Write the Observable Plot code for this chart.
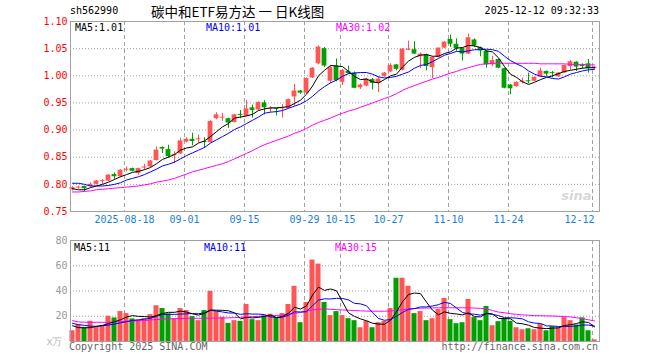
<!DOCTYPE html>
<html><head><meta charset="utf-8">
<script src="https://cdn.jsdelivr.net/npm/d3@7"></script>
<script src="https://cdn.jsdelivr.net/npm/@observablehq/plot@0.6"></script>
<style>
body{margin:0;background:#fff;}
#wrap{position:relative;width:660px;height:360px;background:#fff;overflow:hidden;}
.t{position:absolute;white-space:pre;line-height:10px;font-family:"DejaVu Sans Mono",monospace;font-size:10px;}
#wrap svg{position:absolute;left:0;}
</style></head><body><div id="wrap"></div>
<script>
// ---- data ----
const open  = [0.790,0.793,0.796,0.796,0.800,0.805,0.806,0.818,0.814,0.826,0.829,0.820,0.830,0.832,0.844,0.868,0.864,0.853,0.856,0.878,0.883,0.882,0.878,0.877,0.921,0.922,0.921,0.914,0.928,0.925,0.941,0.937,0.950,0.938,0.939,0.939,0.940,0.961,0.972,0.968,0.996,1.022,1.050,0.990,1.018,0.988,1.008,1.005,0.978,0.981,0.993,0.986,0.999,1.007,1.020,1.010,1.047,1.048,1.035,1.039,1.015,1.034,1.051,1.067,1.058,1.050,1.040,1.066,1.052,1.045,1.020,1.030,1.013,0.983,0.980,0.988,0.990,0.990,0.998,1.008,1.005,0.998,1.005,1.017,1.025,1.020,1.022,1.013];
const high  = [0.796,0.797,0.797,0.803,0.807,0.809,0.818,0.821,0.827,0.832,0.830,0.830,0.837,0.844,0.869,0.869,0.872,0.860,0.885,0.886,0.894,0.891,0.886,0.917,0.932,0.931,0.922,0.929,0.936,0.955,0.946,0.952,0.954,0.943,0.940,0.947,0.957,0.984,0.973,0.996,1.015,1.055,1.052,1.018,1.031,1.012,1.018,1.007,0.985,0.995,0.995,0.998,1.006,1.022,1.021,1.050,1.064,1.063,1.042,1.040,1.035,1.051,1.063,1.075,1.068,1.051,1.077,1.068,1.053,1.046,1.036,1.031,1.014,0.984,0.989,0.996,1.005,0.998,1.014,1.009,1.008,1.006,1.020,1.028,1.026,1.022,1.030,1.017];
const low   = [0.788,0.791,0.786,0.795,0.799,0.800,0.805,0.809,0.813,0.823,0.823,0.817,0.827,0.831,0.843,0.857,0.849,0.838,0.855,0.876,0.871,0.876,0.866,0.876,0.919,0.916,0.903,0.913,0.921,0.925,0.922,0.935,0.928,0.932,0.926,0.922,0.939,0.944,0.966,0.966,0.995,1.020,1.015,0.986,0.989,0.982,1.002,0.976,0.975,0.980,0.974,0.969,0.997,1.006,1.009,1.009,1.046,1.039,1.013,1.009,0.995,1.033,1.050,1.052,1.045,1.027,1.039,1.052,1.035,1.014,1.017,1.013,0.976,0.965,0.979,0.985,0.985,0.989,0.997,0.999,0.996,0.997,1.004,1.010,1.008,1.012,1.005,1.012];
const close = [0.794,0.794,0.792,0.800,0.806,0.806,0.817,0.814,0.826,0.828,0.824,0.829,0.832,0.843,0.863,0.865,0.851,0.855,0.880,0.883,0.879,0.883,0.877,0.916,0.928,0.923,0.913,0.928,0.927,0.939,0.936,0.951,0.941,0.939,0.938,0.940,0.956,0.972,0.968,0.995,1.014,1.053,1.018,1.015,0.991,1.010,1.004,0.977,0.983,0.994,0.986,0.994,1.005,1.019,1.012,1.049,1.049,1.040,1.040,1.017,1.034,1.051,1.062,1.058,1.050,1.040,1.070,1.055,1.046,1.020,1.028,1.014,0.977,0.976,0.988,0.990,0.989,0.997,1.009,1.003,1.004,1.005,1.019,1.026,1.016,1.017,1.013,1.016];
const ma5   = [0.792,0.790,0.790,0.794,0.797,0.800,0.804,0.809,0.814,0.818,0.822,0.824,0.827,0.831,0.838,0.846,0.850,0.855,0.863,0.867,0.869,0.876,0.880,0.888,0.897,0.906,0.912,0.922,0.924,0.926,0.929,0.936,0.939,0.941,0.941,0.942,0.943,0.949,0.955,0.966,0.981,1.000,1.010,1.019,1.018,1.017,1.008,0.999,0.993,0.994,0.989,0.987,0.993,1.000,1.003,1.016,1.027,1.034,1.038,1.039,1.036,1.036,1.041,1.044,1.051,1.052,1.056,1.055,1.052,1.046,1.044,1.033,1.017,1.003,0.997,0.989,0.984,0.988,0.993,0.997,1.000,1.004,1.008,1.010,1.012,1.014,1.015,1.015];
const ma10  = [0.802,0.802,0.800,0.797,0.797,0.797,0.798,0.800,0.803,0.808,0.811,0.814,0.818,0.823,0.828,0.834,0.837,0.841,0.847,0.853,0.858,0.863,0.868,0.876,0.882,0.888,0.894,0.901,0.906,0.912,0.918,0.924,0.931,0.933,0.934,0.936,0.940,0.944,0.948,0.954,0.962,0.972,0.980,0.987,0.992,0.999,1.004,1.005,1.006,1.006,1.003,0.998,0.996,0.997,0.999,1.003,1.007,1.014,1.019,1.021,1.026,1.032,1.038,1.041,1.045,1.044,1.046,1.048,1.048,1.049,1.048,1.045,1.036,1.028,1.022,1.017,1.009,1.003,0.999,0.998,0.995,0.994,0.998,1.003,1.006,1.009,1.011,1.012];
const ma30  = [0.786,0.786,0.787,0.788,0.790,0.791,0.792,0.793,0.794,0.795,0.796,0.797,0.799,0.801,0.804,0.806,0.808,0.811,0.815,0.819,0.823,0.826,0.829,0.832,0.835,0.838,0.842,0.847,0.852,0.857,0.862,0.868,0.873,0.877,0.881,0.885,0.889,0.894,0.898,0.903,0.909,0.914,0.918,0.922,0.927,0.931,0.935,0.938,0.942,0.946,0.950,0.954,0.958,0.962,0.967,0.973,0.978,0.982,0.986,0.990,0.994,0.997,1.001,1.005,1.008,1.012,1.015,1.018,1.021,1.022,1.023,1.023,1.023,1.023,1.023,1.023,1.023,1.023,1.022,1.022,1.022,1.022,1.022,1.021,1.021,1.021,1.020,1.020];
const volume = [8.5,13.3,11.2,16,11.2,12.5,20,18.7,23.7,22.1,17.9,17.1,18.1,21.3,28.3,26.1,21.9,17.9,26.1,24.5,19.7,16.5,24.5,39.7,23.7,19.2,14.4,16.5,16,29.3,17.3,16.5,20.3,21.6,18.7,22.1,29.3,43.7,14.9,30.9,64.5,61.3,30.9,20.5,23.7,20.5,18.1,16.5,10.9,16,10.9,14.9,16,26.1,50.1,50.1,43.7,22.1,23.7,16.5,18.1,25.3,34.1,17.3,14.1,14.9,33.3,18.9,16.5,27.7,12.5,15.7,18.1,16,10.9,9.3,10.1,9.3,13.6,8.5,11.7,10.9,18.9,16.5,13.1,18.7,8.5,1.3];
const vma5  = [12.5,11.0,10.8,11.0,12.0,12.8,14.2,15.7,17.2,19.4,20.5,19.9,19.8,19.3,20.5,22.2,23.1,23.1,24.1,23.3,22.0,20.9,22.3,25.0,24.8,24.7,24.3,22.7,18.0,19.1,18.7,19.1,19.9,21.0,18.9,19.8,22.4,27.1,25.7,28.2,36.7,43.1,40.5,41.6,40.2,31.4,22.7,19.9,17.9,16.4,14.5,13.8,13.7,16.8,23.6,31.4,37.2,38.4,37.9,31.2,24.8,21.1,23.5,22.3,21.8,21.1,22.7,19.7,19.5,22.3,21.8,18.3,18.1,18.0,14.6,14.0,12.9,11.1,10.6,10.2,10.6,10.8,12.7,13.3,14.2,15.6,15.1,11.6];
const vma10 = [14.4,13.3,12.8,12.2,12.0,12.5,13.0,13.8,14.8,15.7,16.7,17.1,17.8,18.3,20.0,21.4,21.5,21.5,21.7,21.9,22.1,22.0,22.7,24.6,24.1,23.4,22.6,22.5,21.5,22.0,21.7,21.7,21.3,19.5,19.0,19.3,20.8,23.5,23.4,23.6,28.3,32.8,33.8,33.7,34.2,34.1,32.9,30.2,29.8,28.3,23.0,18.3,16.8,17.4,20.0,23.0,25.5,26.1,27.4,27.4,28.1,29.2,31.0,30.1,26.5,23.0,21.9,21.6,20.9,22.1,21.5,20.5,18.9,18.8,18.5,17.9,15.6,14.6,14.3,12.4,12.3,11.9,11.9,12.0,12.2,13.1,13.0,12.2];
const vma30 = [16.5,15.5,15.3,15.2,15.2,15.2,15.3,15.5,15.8,16.0,16.2,16.4,16.6,17.0,17.4,17.7,18.0,18.1,18.2,18.3,18.4,18.4,18.4,18.5,18.5,18.6,18.7,18.9,19.2,19.5,19.7,19.9,20.1,20.3,20.6,21.0,21.6,22.3,23.0,24.0,25.0,25.5,25.9,25.5,25.2,25.0,24.8,24.5,24.3,24.1,24.0,24.0,24.0,24.2,24.6,25.2,25.8,26.1,26.4,26.5,26.6,26.7,26.7,26.7,26.7,26.7,26.6,26.5,26.2,25.9,24.5,23.3,22.8,22.0,21.5,21.1,20.8,20.5,20.4,20.3,20.2,20.0,19.8,19.4,18.8,18.2,17.2,16.3];
const tickIdx    = [9, 19, 29, 39, 45, 53, 63, 73, 87];
const tickLabels = ["2025-08-18","09-01","09-15","09-29","10-15","10-27","11-10","11-24","12-12"];
const priceTicks = [0.75,0.80,0.85,0.90,0.95,1.00,1.05,1.10];
const volTicks   = [20,40,60,80];
const code = "sh562990";
const title = "碳中和ETF易方达 一 日K线图";
const stamp = "2025-12-12 09:32:33";
const maText  = ["MA5:1.01","MA10:1.01","MA30:1.02"];
const vmaText = ["MA5:11","MA10:11","MA30:15"];
const volUnit = "x万";

// ---- build ----
const RED = "#ff5555", GREEN = "#00a000", GRID = "#a0a0a0";
const N = close.length;
const candles = d3.range(N).map(i => ({i, o: open[i], h: high[i], l: low[i], c: close[i], v: volume[i]}));
const col = d => d.c >= d.o ? RED : GREEN;
const series = (arr) => arr.map((v, i) => ({i, v}));
const xDomain = [-1/3, N - 1 + 5/6];
const font = {fontFamily: "DejaVu Sans Mono, monospace", fontSize: "10px", background: "transparent", overflow: "visible"};

const main = Plot.plot({
  width: 660, height: 232,
  marginLeft: 70, marginRight: 61, marginTop: 21, marginBottom: 21,
  x: {domain: xDomain, axis: null},
  y: {domain: [0.75, 1.10], axis: null},
  color: {type: "identity"},
  style: font,
  marks: [
    Plot.ruleY(priceTicks.slice(1, -1), {stroke: GRID, strokeDasharray: "1,2"}),
    Plot.ruleX(tickIdx, {x: d => d - 1/3, stroke: GRID, strokeDasharray: "4,3"}),
    Plot.ruleX(candles, {x: "i", y1: "l", y2: "h", stroke: col, strokeWidth: 1}),
    Plot.rect(candles, {x1: d => d.i - 0.4, x2: d => d.i + 0.4,
      y1: d => Math.min(d.o, d.c), y2: d => Math.max(Math.max(d.o, d.c), Math.min(d.o, d.c) + 0.0018), fill: col}),
    Plot.line(series(ma30), {x: "i", y: "v", stroke: "#ff00ff", strokeWidth: 1}),
    Plot.line(series(ma10), {x: "i", y: "v", stroke: "#0000ff", strokeWidth: 1}),
    Plot.line(series(ma5), {x: "i", y: "v", stroke: "#000000", strokeWidth: 1}),
    Plot.frame({stroke: "#a0a0a0"}),
    Plot.axisY({ticks: priceTicks, tickSize: 0, tickPadding: 3, tickFormat: d3.format(".2f"), fill: "#ff0000", label: null}),
    Plot.text(tickIdx.slice(0, -1), {x: d => d - 1/3, text: (d, k) => tickLabels[k], frameAnchor: "bottom", dy: 11, fill: "#1a82d4", textAnchor: "middle"}),
    Plot.text([tickIdx[tickIdx.length - 1]], {x: d => d, text: () => tickLabels[tickLabels.length - 1], frameAnchor: "bottom", dy: 11, fill: "#1a82d4", textAnchor: "end"}),
    Plot.text(["sina"], {frameAnchor: "bottom-right", dx: -8, dy: -12, fill: "#d8d8d8", fontSize: 13, fontWeight: "bold", fontStyle: "italic", fontFamily: "DejaVu Sans, sans-serif", textAnchor: "end"})
  ]
});
main.style.top = "0px";

const vol = Plot.plot({
  width: 660, height: 128,
  marginLeft: 70, marginRight: 61, marginTop: 8, marginBottom: 19,
  x: {domain: xDomain, axis: null},
  y: {domain: [0, 80], axis: null},
  color: {type: "identity"},
  style: font,
  marks: [
    Plot.ruleY(volTicks.slice(0, -1), {stroke: GRID, strokeDasharray: "1,2"}),
    Plot.ruleX(tickIdx, {x: d => d - 1/3, stroke: GRID, strokeDasharray: "4,3"}),
    Plot.rect(candles, {x1: d => d.i - 0.42, x2: d => d.i + 0.42, y1: 0, y2: "v", fill: col}),
    Plot.line(series(vma30), {x: "i", y: "v", stroke: "#ff00ff", strokeWidth: 1}),
    Plot.line(series(vma10), {x: "i", y: "v", stroke: "#0000ff", strokeWidth: 1}),
    Plot.line(series(vma5), {x: "i", y: "v", stroke: "#000000", strokeWidth: 1}),
    Plot.frame({stroke: "#a0a0a0"}),
    Plot.axisY({ticks: volTicks, tickSize: 0, tickPadding: 3, tickFormat: d => String(d), fill: "#999999", label: null}),
    Plot.text([volUnit], {frameAnchor: "bottom-left", dx: -8, dy: 3, textAnchor: "end", fill: "#b8b8b8", fontSize: 10})
  ]
});
vol.style.top = "232px";

const wrap = document.getElementById("wrap");
wrap.appendChild(main);
wrap.appendChild(vol);

function addText(txt, x, y, color, opts = {}) {
  const d = document.createElement("div");
  d.className = "t";
  d.textContent = txt;
  d.style.top = y + "px";
  if (opts.right) { d.style.right = (660 - x) + "px"; } else { d.style.left = x + "px"; }
  d.style.color = color;
  if (opts.font) d.style.fontFamily = opts.font;
  if (opts.size) { d.style.fontSize = opts.size + "px"; d.style.lineHeight = opts.size + "px"; }
  wrap.appendChild(d);
}
addText(code, 70, 6, "#000");
addText(title, 151, 5, "#000", {font: '"Noto Sans CJK SC", sans-serif', size: 13.5});
addText(stamp, 599, 6, "#000", {right: true});
addText(maText[0], 75, 23, "#000");
addText(maText[1], 206, 23, "#0000ff");
addText(maText[2], 336, 23, "#ff00ff");
addText(vmaText[0], 74, 243, "#000");
addText(vmaText[1], 204, 243, "#0000ff");
addText(vmaText[2], 335, 243, "#ff00ff");
addText("Copyright 2025 SINA.COM", 69, 342, "#666");
addText("http://finance.sina.com.cn", 598, 342, "#666", {right: true});
</script></body></html>
